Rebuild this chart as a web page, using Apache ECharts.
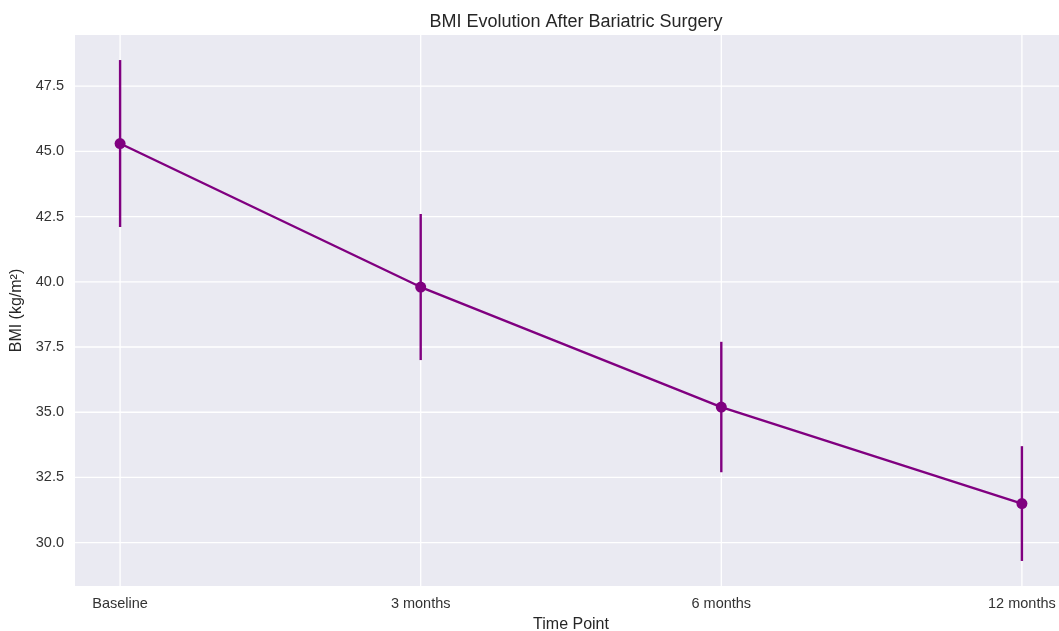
<!DOCTYPE html>
<html><head><meta charset="utf-8">
<script src="https://cdn.jsdelivr.net/npm/echarts@6/dist/echarts.min.js"></script>
<style>html,body{margin:0;padding:0;background:#fff}#c{width:1059px;height:631px}</style>
</head><body><div id="c"></div>
<script>
const categories = ['Baseline', '3 months', '6 months', '12 months'];
const bmiMean = [45.3, 39.8, 35.2, 31.5];
const bmiErr = [3.2, 2.8, 2.5, 2.2];
const yTicks = [30.0, 32.5, 35.0, 37.5, 40.0, 42.5, 45.0, 47.5];

const lineData = bmiMean.map((v, i) => [i, v]);
const errData = bmiMean.map((v, i) => [i, v - bmiErr[i], v + bmiErr[i]]);
const xIdx = categories.map((c, i) => i);
const font = 'Liberation Sans, Arial, sans-serif';
const purple = '#800080';

const chart = echarts.init(document.getElementById('c'), null, {renderer: 'canvas'});
chart.setOption({
  backgroundColor: '#ffffff',
  animation: false,
  title: {
    text: 'BMI Evolution After Bariatric Surgery',
    left: 571, top: 8, textAlign: 'center',
    textStyle: {fontFamily: font, fontSize: 18, fontWeight: 'normal', color: '#262626'}
  },
  grid: {left: 75, top: 35, right: -8, bottom: 45, show: true, backgroundColor: '#EAEAF2', borderWidth: 0, outerBoundsMode: 'none', containLabel: false},
  xAxis: {
    type: 'value', min: -0.15, max: 3.15,
    name: 'Time Point', nameLocation: 'middle', nameGap: 31,
    nameTextStyle: {fontFamily: font, fontSize: 16, color: '#262626'},
    axisLine: {show: false}, axisTick: {show: false, customValues: xIdx},
    axisLabel: {customValues: xIdx, formatter: v => categories[Math.round(v)], fontFamily: font, fontSize: 14.5, color: '#333333', margin: 10},
    splitLine: {show: false}
  },
  yAxis: {
    type: 'value', min: 28.34, max: 49.46,
    name: 'BMI (kg/m²)', nameLocation: 'middle', nameGap: 48,
    nameTextStyle: {fontFamily: font, fontSize: 16, color: '#262626'},
    axisLine: {show: false}, axisTick: {show: false, customValues: yTicks},
    axisLabel: {customValues: yTicks, formatter: v => v.toFixed(1), fontFamily: font, fontSize: 14.5, color: '#333333', margin: 11},
    splitLine: {show: false}
  },
  series: [
    {
      type: 'custom', silent: true, z: 1,
      data: xIdx.map(i => [i]),
      renderItem: (params, api) => {
        const x = api.coord([api.value(0), 30])[0];
        const cs = params.coordSys;
        return {type: 'line', shape: {x1: x, y1: cs.y, x2: x, y2: cs.y + cs.height}, style: {stroke: '#ffffff', lineWidth: 1.3}};
      }
    },
    {
      type: 'custom', silent: true, z: 1,
      data: yTicks.map(v => [v]),
      renderItem: (params, api) => {
        const y = api.coord([0, api.value(0)])[1];
        const cs = params.coordSys;
        return {type: 'line', shape: {x1: cs.x, y1: y, x2: cs.x + cs.width, y2: y}, style: {stroke: '#ffffff', lineWidth: 1.3}};
      }
    },
    {
      type: 'custom', z: 3,
      data: errData,
      renderItem: (params, api) => {
        const lo = api.coord([api.value(0), api.value(1)]);
        const hi = api.coord([api.value(0), api.value(2)]);
        return {type: 'line', shape: {x1: lo[0], y1: lo[1], x2: hi[0], y2: hi[1]}, style: {stroke: purple, lineWidth: 2.4}};
      }
    },
    {
      type: 'line', z: 4,
      data: lineData,
      symbol: 'circle', symbolSize: 11,
      lineStyle: {color: purple, width: 2.4},
      itemStyle: {color: purple}
    }
  ]
});
</script></body></html>
